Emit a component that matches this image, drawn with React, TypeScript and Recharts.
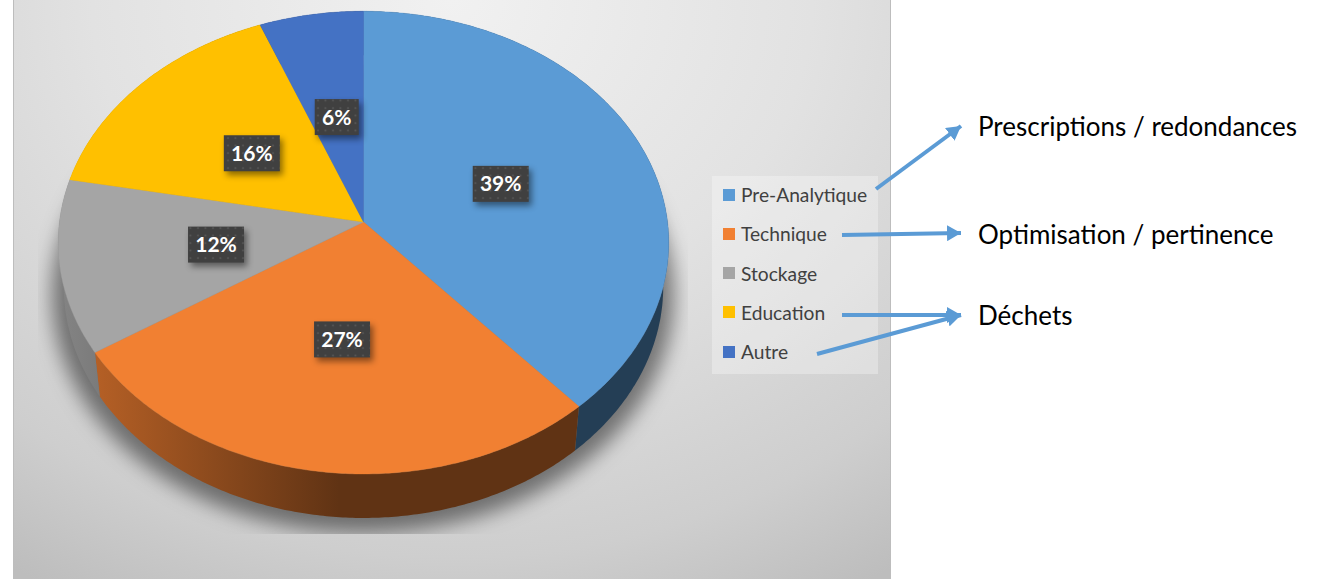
import React from "react";
import { PieChart, Pie, Legend } from "recharts";

const categories = ["Pre-Analytique", "Technique", "Stockage", "Education", "Autre"];
const values = [38.5, 27.4, 12.1, 16, 6];
const colors = ["#5B9BD5", "#F18032", "#A5A5A5", "#FFC000", "#4472C4"];
const pieData = categories.map((name, i) => ({ name, value: values[i], fill: colors[i] }));

const notes = [
  { text: "Prescriptions / redondances", x: 978, y: 136 },
  { text: "Optimisation / pertinence", x: 978, y: 244 },
  { text: "Déchets", x: 978, y: 325 },
];
const arrows = [
  [876, 189, 961, 126],
  [842, 235, 961, 233],
  [842, 315, 961, 315],
  [817, 354, 961, 315],
];

const FONT = "Lato, 'Open Sans', sans-serif";
const K = 0.089;
const Y_RATIO = 0.755;
const DEPTH = 44;
const WALL_SCALE = 0.982;

function project(cx: number, cy: number, R: number, theta: number, f = 1): [number, number] {
  const u = f * Math.sin(theta);
  const v = f * Math.cos(theta);
  const d = 1 + K * v;
  return [cx + (R * u) / d, cy - (R * Y_RATIO * v) / d];
}

function arcPoints(p: any, scale = 1, dy = 0): [number, number][] {
  const a = ((90 - p.startAngle) * Math.PI) / 180;
  const b = ((90 - p.endAngle) * Math.PI) / 180;
  const n = Math.max(2, Math.ceil(Math.abs(b - a) / 0.01));
  const pts: [number, number][] = [];
  for (let i = 0; i <= n; i++) {
    const [x, y] = project(p.cx, p.cy, p.outerRadius, a + ((b - a) * i) / n);
    pts.push([p.cx + (x - p.cx) * scale, y + dy]);
  }
  return pts;
}
const toPath = (pts: [number, number][]) => pts.map((q, i) => `${i ? "L" : "M"}${q[0].toFixed(1)},${q[1].toFixed(1)}`).join(" ");

function TopFace(p: any) {
  return <path d={`M${p.cx},${p.cy} ${toPath(arcPoints(p)).replace("M", "L")} Z`} fill={p.fill} stroke={p.fill} strokeWidth={0.4} />;
}

function shade(hex: string, f: number) {
  const n = parseInt(hex.slice(1), 16);
  const c = [(n >> 16) & 255, (n >> 8) & 255, n & 255].map((v) => Math.round(v * f));
  return `rgb(${c.join(",")})`;
}

function WallFace(p: any) {
  const id = `wall-${p.fill.slice(1)}`;
  const top = arcPoints(p);
  const bottom = arcPoints(p, WALL_SCALE, DEPTH).reverse();
  return (
    <g>
      <defs>
        <linearGradient id={id} gradientUnits="userSpaceOnUse" x1={p.cx - p.outerRadius} x2={p.cx} y1={0} y2={0}>
          <stop offset="0" stopColor={shade(p.fill, 0.8)} />
          <stop offset="0.92" stopColor={shade(p.fill, 0.4)} />
          <stop offset="1" stopColor={shade(p.fill, 0.4)} />
        </linearGradient>
      </defs>
      <path d={`${toPath(top)} ${toPath(bottom).replace("M", "L")} Z`} fill={`url(#${id})`} />
    </g>
  );
}

function renderLabel(p: any) {
  const theta = ((90 - p.midAngle) * Math.PI) / 180;
  const [x, y] = project(p.cx, p.cy, p.outerRadius, theta, 0.49);
  const text = `${Math.round(p.percent * 100)}%`;
  const w = text.length > 2 ? 56 : 44;
  return (
    <g key={text}>
      <g style={{ filter: "drop-shadow(3px 4px 3px rgba(0,0,0,0.45))" }}>
        <rect x={x - w / 2} y={y - 17} width={w} height={36} fill="url(#labelDots)" />
      </g>
      <text x={x} y={y + 8.5} textAnchor="middle" fill="#fff" fontFamily={FONT} fontWeight={700} fontSize={21}>
        {text}
      </text>
    </g>
  );
}

function renderLegend(props: any) {
  const all = props.payload || [];
  const items = categories.map((c) => all.find((it: any) => it.value === c)).filter(Boolean);
  return (
    <div style={{ width: 166, height: 198, background: "rgba(255,255,255,0.3)", position: "relative" }}>
      {items.map((it: any, i: number) => (
        <div key={it.value} style={{ position: "absolute", left: 11, top: 18.5 + i * 39.25 - 12, height: 24, display: "flex", alignItems: "center" }}>
          <span style={{ display: "inline-block", width: 12, height: 12, background: it.color, marginRight: 6 }} />
          <span style={{ fontFamily: FONT, fontSize: 19.2, color: "#404040", whiteSpace: "nowrap" }}>{it.value}</span>
        </div>
      ))}
    </div>
  );
}

export default function App() {
  return (
    <div style={{ position: "absolute", left: 0, top: 0, width: 1319, height: 579, background: "#fff", overflow: "hidden" }}>
      <div
        style={{
          position: "absolute", left: 13, top: 0, width: 878, height: 579, boxSizing: "border-box",
          borderLeft: "1px solid #bdbdbd", borderRight: "1px solid #bdbdbd",
          background: "radial-gradient(ellipse 800px 680px at 50% 0%, #f1f1f1 0%, #e2e2e2 45%, #cecece 82%, #bdbdbd 100%)",
        }}
      />
      <svg width={1319} height={579} style={{ position: "absolute", left: 0, top: 0 }}>
        <defs>
          <filter id="pieShadow" x="-20%" y="-20%" width="140%" height="140%">
            <feGaussianBlur stdDeviation="10" />
          </filter>
          <clipPath id="shadowClip">
            <rect x={38} y={0} width={650} height={534} />
          </clipPath>
        </defs>
        <g clipPath="url(#shadowClip)">
          <ellipse cx={363} cy={295} rx={311} ry={238} fill="rgba(0,0,0,0.48)" filter="url(#pieShadow)" />
        </g>
      </svg>
      <div style={{ position: "absolute", left: 0, top: 0 }}>
        <PieChart width={1319} height={579} margin={{ top: 0, right: 0, bottom: 0, left: 0 }}>
          <defs>
            <pattern id="labelDots" width={7.5} height={7.5} patternUnits="userSpaceOnUse">
              <rect width={7.5} height={7.5} fill="#404040" />
              <circle cx={3} cy={3} r={1} fill="#595959" />
            </pattern>
          </defs>
          <Pie
            data={pieData} dataKey="value" nameKey="name" cx={363.5} cy={222} outerRadius={304}
            startAngle={90} endAngle={-270} isAnimationActive={false} legendType="none"
            shape={WallFace} label={false} labelLine={false}
          />
          <Pie
            data={pieData} dataKey="value" nameKey="name" cx={363.5} cy={222} outerRadius={304}
            startAngle={90} endAngle={-270} isAnimationActive={false} legendType="square"
            shape={TopFace} label={renderLabel} labelLine={false}
          />
          <Legend
            content={renderLegend} layout="vertical" align="right" verticalAlign="top"
            wrapperStyle={{ position: "absolute", left: 712, top: 176, width: 166, height: 198, right: "auto", bottom: "auto" }}
          />
        </PieChart>
      </div>
      <svg width={1319} height={579} style={{ position: "absolute", left: 0, top: 0, pointerEvents: "none" }}>
        <defs>
          <marker id="head" markerUnits="userSpaceOnUse" markerWidth={16} markerHeight={16} refX={14} refY={8} orient="auto">
            <path d="M0,0 L14,8 L0,16 Z" fill="#5B9BD5" />
          </marker>
        </defs>
        {arrows.map((a, i) => (
          <line key={i} x1={a[0]} y1={a[1]} x2={a[2]} y2={a[3]} stroke="#5B9BD5" strokeWidth={4} markerEnd="url(#head)" />
        ))}
        {notes.map((n) => (
          <text key={n.text} x={n.x} y={n.y} fontFamily={FONT} fontSize={26} fill="#000">
            {n.text}
          </text>
        ))}
      </svg>
    </div>
  );
}
